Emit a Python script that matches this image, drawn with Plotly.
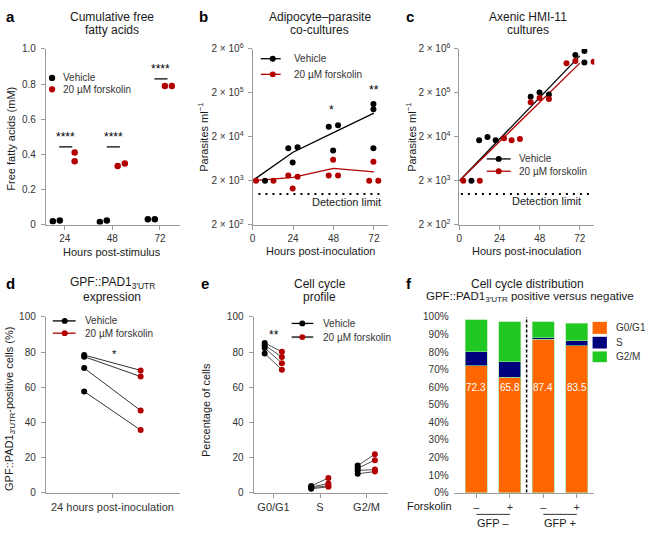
import math
import plotly.graph_objects as go

W, H = 650, 536
FONT = "Liberation Sans, Arial, sans-serif"
BLACK = "#000000"
RED = "#b20000"
AXC = "#9a9a9a"
TXT = "#333333"
TTL = "#1a1a1a"
ORANGE = "#ff6600"
NAVY = "#00007f"
GREEN = "#22c822"

# ---------------- data ----------------
# a: cumulative free fatty acids (mM)
a_hours = [24, 48, 72]
a_vehicle = [[0.019, 0.024], [0.015, 0.024], [0.030, 0.030]]
a_forskolin = [[0.41, 0.36], [0.333, 0.348], [0.789, 0.789]]
a_sig = ["****", "****", "****"]

# b: adipocyte-parasite co-cultures (parasites/ml)
b_timepoints = [0, 24, 48, 72]
b_vehicle = [[2000], [10900, 11500, 5200], [33700, 36700, 9700], [112000, 85000, 11000]]
b_forskolin = [[2000, 2000], [2630, 2460, 1330], [2630, 2630, 5980], [2000, 2000, 5400]]
b_vehicle_mean = [2000, 8900, 24800, 69000]
b_forskolin_mean = [2000, 2370, 3830, 3170]
b_sig = ["", "", "*", "**"]

# c: axenic HMI-11 cultures (parasites/ml)
c_timepoints = [0, 24, 48, 72]
c_vehicle = [[2000], [16700, 19800, 16700], [163000, 203000, 184000], [1460000, 1790000, 980000]]
c_forskolin = [[2000, 2000], [18500, 16700, 17900], [122000, 152000, 145000], [950000, 1070000, 1020000]]
c_fit_hours = [0, 72]
c_vehicle_fit = [2000, 1390000]
c_forskolin_fit = [2000, 950000]
detection_limit = 1000

# d: GFP::PAD1 3'UTR positive cells (%)
d_vehicle = [78.3, 77.4, 70.9, 57.6]
d_forskolin = [69.6, 66.1, 46.7, 35.6]
d_sig = "*"

# e: cell cycle profile (%)
e_phases = ["G0/G1", "S", "G2/M"]
e_vehicle = [[85.2, 83.9, 82.4, 79.2], [3.8, 3.2, 2.8, 2.2], [15.4, 13.9, 12.6, 10.7]]
e_forskolin = [[80.2, 77.2, 73.7, 70.0], [8.3, 5.2, 3.9, 3.3], [21.9, 18.5, 13.1, 12.0]]
e_sig = ["**", "", ""]

# f: cell cycle distribution (%)
f_forskolin = ["–", "+", "–", "+"]
f_gfp = ["GFP –", "GFP +"]
f_g0g1 = [72.3, 65.8, 87.4, 83.5]
f_s = [7.9, 8.8, 0.7, 3.0]
f_g2m = [18.1, 22.6, 9.3, 10.0]

# ------------- presentation: horizontal dodge offsets (hours) -------------
a_jit_v = [[-6, -2.5], [-6.3, -2.8], [-6.1, -2.6]]
a_jit_f = [[5, 5], [2.7, 6.3], [2.5, 6]]
b_jit_v = [[7.4], [-2.8, 2.7, -0.2], [-2.8, 2.7, -0.2], [-0.3, -0.3, -0.3]]
b_jit_f = [[2.1, 12.4], [-2.8, 2.7, -0.2], [-2.8, 2.7, -0.2], [-2.8, 2.6, -0.3]]
c_jit_v = [[7.2], [-12.2, -7.2, -2.3], [-5.4, -0.1, 5.5], [-2.7, 2.7, 2.7]]
c_jit_f = [[2.3, 12.2], [2.7, 7.2, 12.2], [-5.4, -0.1, 5.5], [-8, -2.7, 8.2]]
a_sig_y = [0.443, 0.443, 0.83]


def PX(x):
    return x / W


def PY(y):
    return 1 - y / H


def flat(tps, vals, jit):
    xs, ys = [], []
    for t, vs, js in zip(tps, vals, jit):
        for v, j in zip(vs, js):
            xs.append(t + j)
            ys.append(v)
    return xs, ys


fig = go.Figure()


def pts(xs, ys, color, ax, size=6.5):
    fig.add_trace(go.Scatter(x=xs, y=ys, mode="markers", marker=dict(color=color, size=size),
                             xaxis="x" + ax, yaxis="y" + ax, showlegend=False, hoverinfo="skip"))


def line(xs, ys, color, ax, width=1.3, dash=None):
    fig.add_trace(go.Scatter(x=xs, y=ys, mode="lines", line=dict(color=color, width=width, dash=dash),
                             xaxis="x" + ax, yaxis="y" + ax, showlegend=False, hoverinfo="skip"))


# ---- a
xs, ys = flat(a_hours, a_vehicle, a_jit_v)
pts(xs, ys, BLACK, "")
xs, ys = flat(a_hours, a_forskolin, a_jit_f)
pts(xs, ys, RED, "")

# ---- b
line(b_timepoints, b_vehicle_mean, BLACK, "2")
line(b_timepoints, b_forskolin_mean, RED, "2")
xs, ys = flat(b_timepoints, b_vehicle, b_jit_v)
pts(xs, ys, BLACK, "2", 6)
xs, ys = flat(b_timepoints, b_forskolin, b_jit_f)
pts(xs, ys, RED, "2", 6)
line([3.5, 77.4], [detection_limit] * 2, BLACK, "2", width=2, dash="2px,5px")

# ---- c
line(c_fit_hours, c_vehicle_fit, BLACK, "3")
line(c_fit_hours, c_forskolin_fit, RED, "3")
xs, ys = flat(c_timepoints, c_vehicle, c_jit_v)
pts(xs, ys, BLACK, "3", 6)
xs, ys = flat(c_timepoints, c_forskolin, c_jit_f)
pts(xs, ys, RED, "3", 6)
line([0.9, 78.3], [detection_limit] * 2, BLACK, "3", width=2, dash="2px,5px")

# ---- d
for v, f in zip(d_vehicle, d_forskolin):
    line([-0.5, 0.5], [v, f], "#333333", "4", width=1)
pts([-0.5] * len(d_vehicle), d_vehicle, BLACK, "4", 6)
pts([0.5] * len(d_forskolin), d_forskolin, RED, "4", 6)

# ---- e
for i, ph in enumerate(e_phases):
    for v, f in zip(e_vehicle[i], e_forskolin[i]):
        line([i - 0.19, i + 0.18], [v, f], "#222222", "5", width=0.8)
for i, ph in enumerate(e_phases):
    pts([i - 0.19] * len(e_vehicle[i]), e_vehicle[i], BLACK, "5", 6)
    pts([i + 0.18] * len(e_forskolin[i]), e_forskolin[i], RED, "5", 6)

# ---- f
fx = list(range(len(f_g0g1)))
for name, vals, col in [("G0/G1", f_g0g1, ORANGE), ("S", f_s, NAVY), ("G2/M", f_g2m, GREEN)]:
    fig.add_trace(go.Bar(x=fx, y=vals, name=name, marker=dict(color=col, line=dict(color="#9be39b", width=0.6)),
                         width=0.66, xaxis="x6", yaxis="y6", showlegend=False, hoverinfo="skip"))

# ---------------- axes ----------------
def xax(x0, x1, rng, anchor, **kw):
    d = dict(domain=[PX(x0), PX(x1)], range=rng, anchor=anchor, showgrid=False, zeroline=False,
             showline=True, linecolor=AXC, linewidth=1, ticks="outside", ticklen=4, tickcolor=AXC,
             tickwidth=1, tickfont=dict(size=10, color=TXT, family=FONT), fixedrange=True)
    d.update(kw)
    return d


def yax(top, bottom, rng, anchor, **kw):
    d = dict(domain=[PY(bottom), PY(top)], range=rng, anchor=anchor, showgrid=False, zeroline=False,
             showline=True, linecolor=AXC, linewidth=1, ticks="outside", ticklen=4, tickcolor=AXC,
             tickwidth=1, tickfont=dict(size=10, color=TXT, family=FONT), fixedrange=True,
             ticklabelstandoff=3)
    d.update(kw)
    return d


log_ticks = [2e2, 2e3, 2e4, 2e5, 2e6]
log_text = ["2 × 10<sup>%d</sup>" % round(math.log10(v / 2)) for v in log_ticks]
lrange = [math.log10(2e2), math.log10(2e6)]
pct = list(range(0, 101, 10))

fig.update_layout(
    xaxis=xax(43, 178, [14.45, 82.2], "y", tickvals=a_hours),
    yaxis=yax(43, 223, [0, 1], "x", tickvals=[0, 0.2, 0.4, 0.6, 0.8, 1.0],
              ticktext=["0", "0.2", "0.4", "0.6", "0.8", "1.0"]),
    xaxis2=xax(250.7, 386.7, [0, 80.3], "y2", tickvals=b_timepoints),
    yaxis2=yax(43, 223, lrange, "x2", type="log", tickvals=log_ticks, ticktext=log_text,
               tickfont=dict(size=10, color=TXT, family=FONT), ticklabelstandoff=2),
    xaxis3=xax(458.5, 594, [0, 80.6], "y3", tickvals=c_timepoints),
    yaxis3=yax(43, 223, lrange, "x3", type="log", tickvals=log_ticks, ticktext=log_text,
               tickfont=dict(size=10, color=TXT, family=FONT), ticklabelstandoff=2),
    xaxis4=xax(43, 178, [-1.18, 1.2], "y4", tickvals=[0], ticktext=["24 hours post-inoculation"],
               tickfont=dict(size=11, color=TXT, family=FONT)),
    yaxis4=yax(317.7, 497.7, [0, 100], "x4", tickvals=[0, 20, 40, 60, 80, 100]),
    xaxis5=xax(251.7, 386.7, [-0.43, 2.46], "y5", tickvals=[0, 1, 2], ticktext=e_phases,
               tickfont=dict(size=11, color=TXT, family=FONT)),
    yaxis5=yax(317.7, 497.7, [0, 100], "x5", tickvals=[0, 20, 40, 60, 80, 100]),
    xaxis6=xax(452.7, 594, [-0.68, 3.52], "y6", tickvals=fx, ticktext=f_forskolin,
               tickfont=dict(size=11, color=TXT, family=FONT)),
    yaxis6=yax(317.7, 497.7, [0, 100], "x6", tickvals=pct, ticktext=["%d%%" % p for p in pct],
               showline=False, ticks="", ticklabelstandoff=4),
    barmode="stack",
    width=W, height=H,
    margin=dict(l=0, r=0, t=0, b=0),
    paper_bgcolor="white", plot_bgcolor="white",
    font=dict(family=FONT, color=TXT),
    showlegend=False,
)

ann = []
shapes = []


def text(t, x, y, size=11, xa="center", ya="middle", color=TTL, angle=0, xref="paper", yref="paper", bold=False):
    if bold:
        t = "<b>%s</b>" % t
    ann.append(dict(text=t, x=x, y=y, xref=xref, yref=yref, xanchor=xa, yanchor=ya, showarrow=False,
                    textangle=angle, font=dict(size=size, color=color, family=FONT)))


def ptext(t, px, py, **kw):
    text(t, PX(px), PY(py), **kw)


# panel letters
for L, px, py in [("a", 1, 10), ("b", 195, 10), ("c", 403, 10), ("d", 1, 283), ("e", 197, 283), ("f", 403, 283)]:
    ptext(L, px, py, size=15, xa="left", bold=True, color="#000")

# titles
for t, px, py, sz in [("Cumulative free", 110, 10, 12), ("fatty acids", 110, 24, 12),
                      ("Adipocyte–parasite", 318, 10, 12), ("co-cultures", 318, 24, 12),
                      ("Axenic HMI-11", 527, 10, 12), ("cultures", 527, 24, 12),
                      ("GPF::PAD1<sub>3′UTR</sub>", 110, 283, 12), ("expression", 110, 297, 12),
                      ("Cell cycle", 318, 284, 12), ("profile", 318, 297, 12),
                      ("Cell cycle distribution", 527, 284, 12),
                      ("GPF::PAD1<sub>3′UTR</sub> positive versus negative", 529, 297, 11.5)]:
    ptext(t, px, py, size=sz)

# axis titles
ptext("Free fatty acids (mM)", 8, 135, angle=-90)
ptext("Hours post-stimulus", 110, 251)
ptext("Parasites ml<sup>−1</sup>", 201, 134, angle=-90)
ptext("Hours post-inoculation", 319, 250)
ptext("Parasites ml<sup>−1</sup>", 410, 134, angle=-90)
ptext("Hours post-inoculation", 526, 250)
ptext("GPF::PAD1<sub>3′UTR</sub>-positive cells (%)", 7, 412, angle=-90)
ptext("Percentage of cells", 204, 413, angle=-90)

# detection limit labels
ptext("Detection limit", 382, 200, xa="right")
ptext("Detection limit", 583, 199, xa="right")

# significance a
for h, s, yv in zip(a_hours, a_sig, a_sig_y):
    shapes.append(dict(type="line", xref="x", yref="y", x0=h + 0.5 - 3.3, x1=h + 0.5 + 3.3, y0=yv, y1=yv,
                       line=dict(color=BLACK, width=1.2)))
    text(s, h + 0.5, yv + 0.005, size=12, ya="bottom", xref="x", yref="y", color=BLACK)
# significance b
b_sig_pos = {2: (46.8, 4.915), 3: (72, 5.36)}
for i, s in enumerate(b_sig):
    if s:
        x, ly = b_sig_pos[i]
        text(s, x, ly, size=12, xref="x2", yref="y2", color=BLACK)
# significance d / e
text(d_sig, 0.03, 79, size=11, xref="x4", yref="y4", color=BLACK)
for i, s in enumerate(e_sig):
    if s:
        text(s, i, 90, size=12, xref="x5", yref="y5", color=BLACK)


# legends
def leg_line(x0, x1, xm, xt, py, color, label, lc=None, lw=1.3):
    shapes.append(dict(type="line", xref="paper", yref="paper", x0=PX(x0), x1=PX(x1), y0=PY(py), y1=PY(py),
                       line=dict(color=lc or color, width=lw)))
    shapes.append(dict(type="circle", xref="paper", yref="paper", x0=PX(xm - 3), x1=PX(xm + 3),
                       y0=PY(py + 3), y1=PY(py - 3), fillcolor=color, line=dict(width=0)))
    ptext(label, xt, py, size=10, xa="left", color=TXT)


def leg_dot(xm, xt, py, color, label):
    shapes.append(dict(type="circle", xref="paper", yref="paper", x0=PX(xm - 3.2), x1=PX(xm + 3.2),
                       y0=PY(py + 3.2), y1=PY(py - 3.2), fillcolor=color, line=dict(width=0)))
    ptext(label, xt, py, size=10, xa="left", color=TXT)


leg_dot(49.3, 58.3, 72.7, BLACK, "Vehicle")
leg_dot(49.3, 58.3, 84.3, RED, "20 µM forskolin")
leg_line(259, 279, 271, 290, 53, BLACK, "Vehicle")
leg_line(259, 279, 271, 290, 69, RED, "20 µM forskolin")
leg_line(486, 510, 498, 516, 155.7, BLACK, "Vehicle")
leg_line(486, 510, 498, 516, 168.3, RED, "20 µM forskolin")
leg_line(50, 73, 62, 80, 321.7, BLACK, "Vehicle")
leg_line(50, 73, 62, 80, 334.3, RED, "20 µM forskolin")
leg_line(290, 311.7, 300.7, 319.3, 324.3, BLACK, "Vehicle")
leg_line(290, 311.7, 300.7, 319.3, 338.3, RED, "20 µM forskolin", lc="#555555", lw=2)

for (name, col), (top, bot) in zip([("G0/G1", ORANGE), ("S", NAVY), ("G2/M", GREEN)],
                                   [(322.7, 335), (338, 350), (353, 364)]):
    shapes.append(dict(type="rect", xref="paper", yref="paper", x0=PX(592.3), x1=PX(606.7),
                       y0=PY(bot), y1=PY(top), fillcolor=col, line=dict(width=0)))
    ptext(name, 614, (top + bot) / 2, size=10, xa="left", color=TXT)

# f: bar value labels, divider, group labels
for i, v in enumerate(f_g0g1):
    text("%.1f" % v, i, 60, size=10, xref="x6", yref="y6", color="white")
n_half = len(f_g0g1) / 2
shapes.append(dict(type="line", xref="x6", yref="y6", x0=n_half - 0.5, x1=n_half - 0.5, y0=0, y1=103.5,
                   line=dict(color=BLACK, width=1.5, dash="3px,2px")))
ptext("Forskolin", 453, 511, xa="right", color=TTL)
for g, lab in enumerate(f_gfp):
    shapes.append(dict(type="line", xref="x6", yref="paper", x0=2 * g, x1=2 * g + 1, y0=PY(520), y1=PY(520),
                       line=dict(color="#333333", width=1)))
    text(lab, 2 * g + 0.5, PY(529), size=11, xref="x6", yref="paper", color=TTL)

fig.update_layout(annotations=ann, shapes=shapes)
fig.write_html("out.html", config={"displayModeBar": False, "responsive": False},
               post_script="document.body.style.margin='0';document.body.style.overflow='hidden';")
